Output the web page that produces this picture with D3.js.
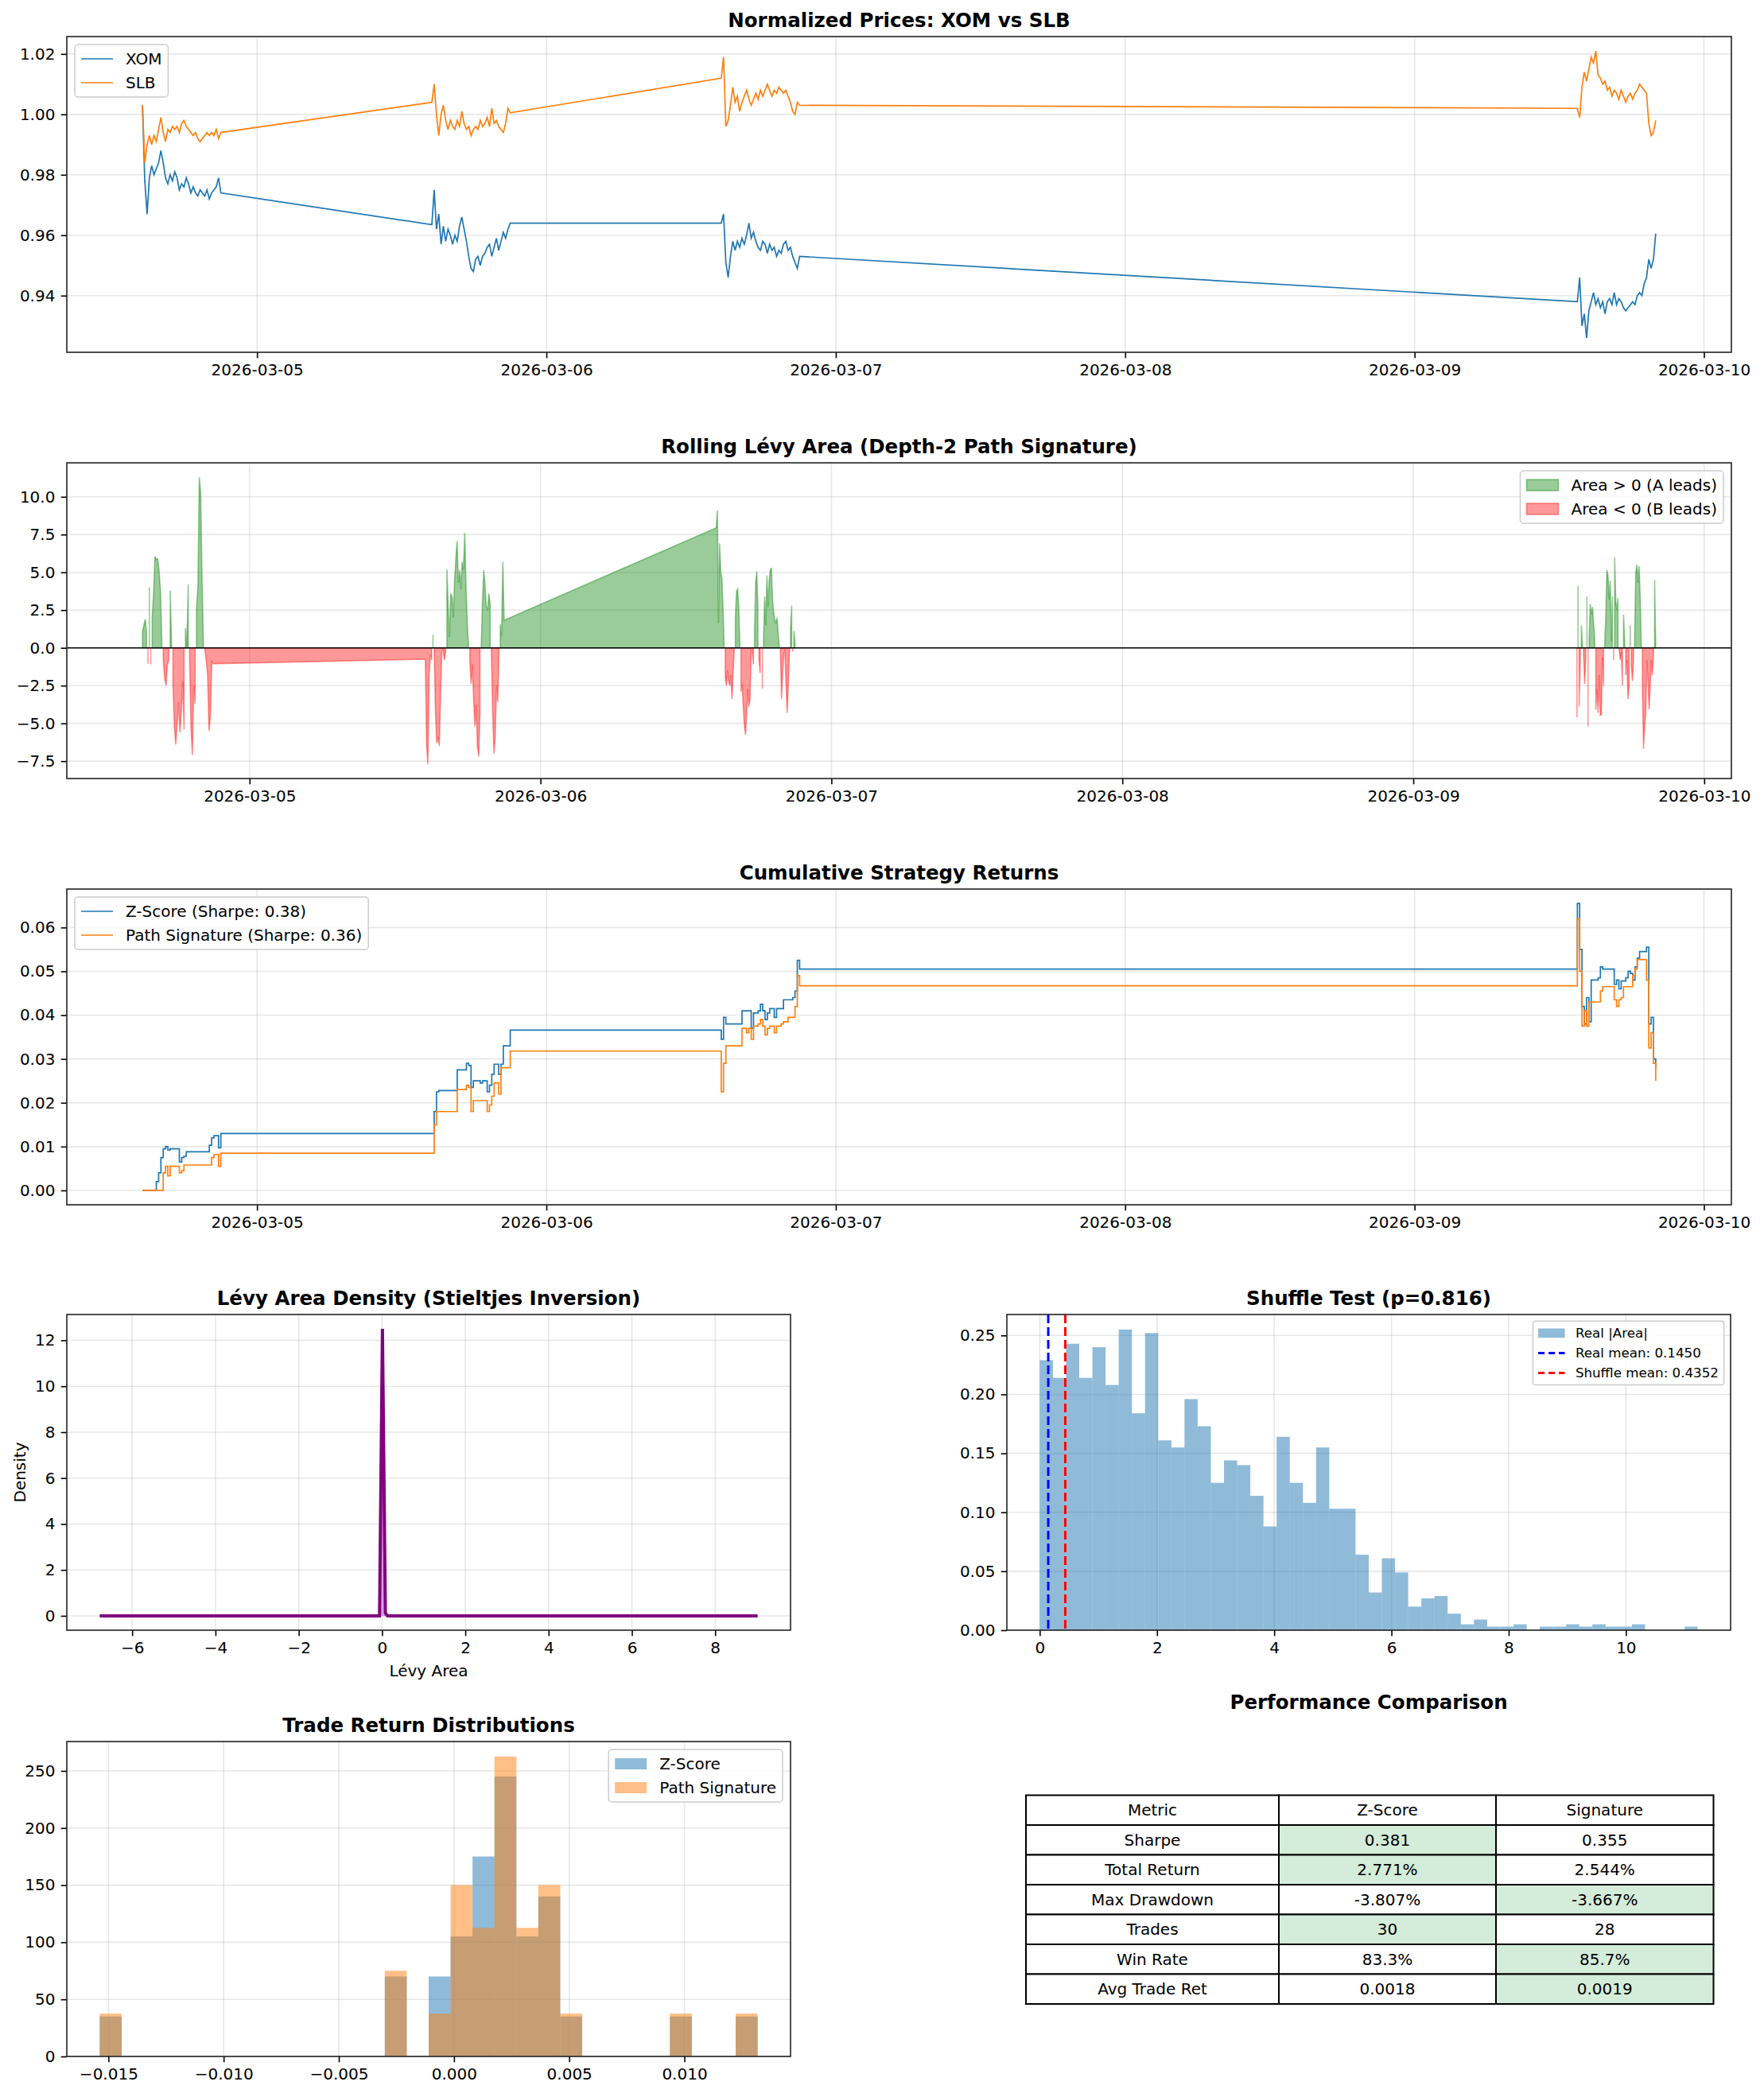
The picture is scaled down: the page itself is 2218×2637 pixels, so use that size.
<!DOCTYPE html>
<html>
<head>
<meta charset="utf-8">
<script src="https://cdn.jsdelivr.net/npm/d3@7"></script>
<style>
  body { margin: 0; background: #fff; }
  svg { display: block; }
</style>
</head>
<body>
<div id="chart"></div>
<script>
// ---- trading sessions (UTC) ----
const sessionOpen  = ["2026-03-04T14:30Z", "2026-03-05T14:30Z", "2026-03-06T14:30Z", "2026-03-09T13:30Z"];
const sessionClose = ["2026-03-04T21:00Z", "2026-03-05T21:00Z", "2026-03-06T21:00Z", "2026-03-09T20:00Z"];
// rolling window needs warm-up on the first day
const levyOpen     = ["2026-03-04T15:10Z", "2026-03-05T14:30Z", "2026-03-06T14:30Z", "2026-03-09T13:30Z"];

// ---- normalized prices, evenly sampled through each session ----
const xomDays = [
  [1.003, 0.978, 0.967, 0.979, 0.983, 0.980, 0.982, 0.984, 0.988, 0.984, 0.979, 0.977, 0.980, 0.978, 0.981, 0.979, 0.975, 0.977, 0.976, 0.979, 0.977, 0.974, 0.976, 0.974, 0.973, 0.975, 0.974, 0.973, 0.975, 0.972, 0.974, 0.975, 0.976, 0.979, 0.974],
  [0.9635, 0.975, 0.962, 0.967, 0.957, 0.963, 0.958, 0.962, 0.960, 0.957, 0.960, 0.958, 0.963, 0.966, 0.962, 0.958, 0.953, 0.949, 0.948, 0.952, 0.953, 0.950, 0.953, 0.954, 0.956, 0.957, 0.953, 0.956, 0.959, 0.955, 0.958, 0.961, 0.959, 0.962, 0.964],
  [0.964, 0.967, 0.951, 0.946, 0.953, 0.958, 0.955, 0.958, 0.956, 0.959, 0.957, 0.960, 0.964, 0.959, 0.961, 0.958, 0.956, 0.955, 0.958, 0.957, 0.954, 0.957, 0.955, 0.956, 0.953, 0.955, 0.954, 0.957, 0.958, 0.955, 0.956, 0.953, 0.951, 0.949, 0.953],
  [0.938, 0.946, 0.930, 0.934, 0.926, 0.935, 0.938, 0.941, 0.937, 0.939, 0.936, 0.938, 0.934, 0.938, 0.939, 0.937, 0.941, 0.937, 0.939, 0.938, 0.936, 0.935, 0.936, 0.937, 0.938, 0.937, 0.940, 0.941, 0.940, 0.944, 0.946, 0.952, 0.949, 0.952, 0.9605]
];
const slbDays = [
  [1.003, 0.984, 0.990, 0.993, 0.990, 0.993, 0.991, 0.995, 0.999, 0.994, 0.991, 0.995, 0.994, 0.996, 0.995, 0.996, 0.994, 0.997, 0.998, 0.996, 0.995, 0.994, 0.993, 0.994, 0.992, 0.991, 0.992, 0.993, 0.994, 0.993, 0.994, 0.993, 0.995, 0.992, 0.994],
  [1.004, 1.010, 1.000, 0.993, 1.000, 1.003, 0.998, 0.995, 0.998, 0.996, 0.995, 0.998, 0.996, 1.001, 0.997, 0.995, 0.996, 0.993, 0.995, 0.996, 0.995, 0.998, 0.996, 0.997, 0.999, 0.996, 1.002, 0.997, 0.998, 0.996, 0.995, 0.994, 0.997, 1.002, 1.0005],
  [1.012, 1.019, 0.996, 0.998, 1.003, 1.009, 1.004, 1.006, 1.001, 1.004, 1.006, 1.008, 1.005, 1.003, 1.005, 1.007, 1.005, 1.008, 1.006, 1.008, 1.010, 1.008, 1.006, 1.008, 1.007, 1.009, 1.008, 1.007, 1.008, 1.006, 1.004, 1.001, 1.000, 1.004, 1.003],
  [1.002, 0.999, 1.009, 1.014, 1.011, 1.015, 1.019, 1.017, 1.021, 1.013, 1.012, 1.010, 1.011, 1.008, 1.009, 1.006, 1.008, 1.007, 1.005, 1.008, 1.006, 1.004, 1.006, 1.007, 1.005, 1.007, 1.008, 1.010, 1.009, 1.008, 1.007, 0.997, 0.993, 0.994, 0.998]
];

// ---- rolling Levy area ----
const levyDays = [
  [1.1, 1.5, 1.9, 0.96, -1.05, 4.0, -1.1, 2.0, 3.6, 6.06, 5.85, 5.9, 5.1, 3.75, 0.17, -0.8, -2.0, -2.5, -1.1, -0.8, 3.8, 0.1, -2.5, -5.2, -6.4, -5.0, -3.6, -5.6, -4.3, -2.2, -5.4, 1.3, 0.1, 4.2, -0.8, -5.2, -7.1, -2.5, -3.7, 2.6, 4.1, 11.3, 10.2, 4.45, 0.1, -0.1, -0.8, -1.8, -5.5, -4.45, -0.9, -1.05],
  [-0.75, -6.4, -7.7, -1.8, -0.44, -0.8, 0.87, -0.1, -4.3, -6.3, -5.9, -6.5, -3.1, -0.26, -0.1, -0.8, -0.3, 5.2, 2.7, 0.7, 3.6, 3.4, 2.0, 4.45, 5.85, 7.07, 4.3, 5.15, 3.9, 5.7, 5.15, 7.6, 4.1, 1.66, 0.1, -0.8, -2.4, -1.1, -3.4, -5.2, -3.8, -6.5, -7.2, -4.3, 0.1, 3.06, 5.15, 4.1, 2.7, 2.5, 3.6, 2.9, -0.44, -4.3, -7.0, -5.85, -2.5, -3.6, -0.3, 1.57, 0.79, 5.7, 1.83],
  [7.95, 9.1, 1.66, 6.9, 5.0, 4.6, 2.7, 0.1, -2.0, -2.5, -1.5, -2.2, -2.5, -1.8, -3.4, -1.66, -0.1, 2.0, 3.75, 3.9, 2.7, 0.1, -2.9, -2.4, -3.9, -5.15, -5.76, -4.3, -2.7, -3.9, -3.4, -0.1, -0.26, -1.1, 1.1, 4.3, 5.06, 2.7, -0.8, -1.66, 0.1, -2.7, 0.44, 3.4, 1.5, 4.8, 2.7, 4.45, 5.15, 5.3, 3.2, 2.36, 1.83, 1.66, 2.0, 0.96, 0.1, -0.26, -3.4, -1.66, -0.44, -0.1, -2.5, -4.3, -2.5, -0.26, 1.3, 2.8, -0.26, 1.13, 0.3],
  [-4.6, 4.1, -3.9, -0.8, 1.5, 0.1, -0.44, -2.4, -0.6, 3.4, -5.2, 0.6, 2.9, 2.2, 2.7, 1.66, 0.6, -4.1, -2.7, -4.3, -1.8, -4.45, -4.45, -0.6, -2.5, 0.26, 2.0, 5.15, 4.8, 3.2, 4.45, 0.44, 3.4, -0.8, 6.0, 3.06, 2.5, 3.3, -0.1, -0.8, -0.26, -2.5, 2.2, 0.44, -1.8, -0.8, -3.4, -2.5, 1.5, -1.1, -2.2, -0.8, 0.6, 5.0, 5.5, 4.3, 5.4, 3.4, 0.1, -2.5, -6.7, -5.15, -4.45, -0.8, -2.2, -4.1, -2.5, -0.8, -1.8, -0.26, 4.5, 0.1]
];
const levyTicks = [-7.5, -5, -2.5, 0, 2.5, 5, 7.5, 10];

// ---- cumulative strategy returns ----
const zScoreDays = [
  [0, 0, 0, 0, 0, 0, 0.002, 0.004, 0.0075, 0.0095, 0.010, 0.0092, 0.0095, 0.0095, 0.0095, 0.0095, 0.0065, 0.0075, 0.0078, 0.0088, 0.0088, 0.0088, 0.0088, 0.0088, 0.0088, 0.0088, 0.0088, 0.0088, 0.0088, 0.0103, 0.0120, 0.0125, 0.0125, 0.0097, 0.0130],
  [0.013, 0.018, 0.0225, 0.0228, 0.0228, 0.0228, 0.0228, 0.0228, 0.0228, 0.0228, 0.0228, 0.0275, 0.0275, 0.0275, 0.0275, 0.0290, 0.0285, 0.0235, 0.0250, 0.0250, 0.0250, 0.0245, 0.0250, 0.0250, 0.0225, 0.0240, 0.0265, 0.0288, 0.0288, 0.0265, 0.0288, 0.0330, 0.0330, 0.0330, 0.0366],
  [0.0345, 0.0395, 0.038, 0.038, 0.038, 0.038, 0.038, 0.038, 0.038, 0.041, 0.041, 0.041, 0.041, 0.037, 0.0405, 0.0405, 0.041, 0.0425, 0.041, 0.039, 0.0405, 0.0415, 0.0415, 0.0395, 0.0415, 0.0415, 0.0415, 0.0435, 0.0435, 0.0435, 0.0435, 0.0440, 0.0455, 0.0525, 0.0505],
  [0.0655, 0.055, 0.042, 0.038, 0.044, 0.0385, 0.048, 0.048, 0.048, 0.0485, 0.051, 0.0505, 0.0505, 0.0505, 0.0505, 0.0505, 0.047, 0.048, 0.046, 0.0478, 0.0478, 0.0485, 0.050, 0.0495, 0.048, 0.051, 0.053, 0.0545, 0.0545, 0.0545, 0.0555, 0.038, 0.0395, 0.030, 0.028]
];
const signatureDays = [
  [0, 0, 0, 0, 0, 0, 0, 0, 0, 0.004, 0.0055, 0.0033, 0.0055, 0.0055, 0.0055, 0.0055, 0.004, 0.0045, 0.0058, 0.0058, 0.0058, 0.0058, 0.0058, 0.0058, 0.0058, 0.0058, 0.0058, 0.0058, 0.0058, 0.0058, 0.0075, 0.0082, 0.0082, 0.0055, 0.0085],
  [0.0085, 0.015, 0.018, 0.018, 0.018, 0.018, 0.018, 0.018, 0.018, 0.018, 0.018, 0.023, 0.023, 0.023, 0.023, 0.024, 0.0235, 0.018, 0.0205, 0.0205, 0.0205, 0.0205, 0.0205, 0.0205, 0.018, 0.0195, 0.0215, 0.0245, 0.0245, 0.022, 0.028, 0.028, 0.028, 0.028, 0.0318],
  [0.0225, 0.029, 0.033, 0.033, 0.033, 0.033, 0.033, 0.033, 0.033, 0.037, 0.037, 0.036, 0.037, 0.0345, 0.0375, 0.0375, 0.038, 0.039, 0.0375, 0.0355, 0.037, 0.0375, 0.0375, 0.036, 0.0375, 0.0375, 0.038, 0.0385, 0.0385, 0.0395, 0.0395, 0.0395, 0.042, 0.049, 0.0467],
  [0.062, 0.050, 0.0375, 0.041, 0.0375, 0.043, 0.043, 0.043, 0.043, 0.043, 0.0455, 0.0465, 0.0465, 0.0465, 0.0465, 0.0465, 0.0435, 0.042, 0.0435, 0.044, 0.0465, 0.0465, 0.0465, 0.0465, 0.049, 0.0505, 0.0527, 0.0527, 0.0527, 0.0527, 0.048, 0.0325, 0.036, 0.029, 0.025]
];
const strategyNames = ["Z-Score", "Path Signature"];
const sharpeLabels = ["0.38", "0.36"];

// ---- Levy area density (Stieltjes inversion) ----
const densX = [-6.78, -0.06, 0.01, 0.08, 0.13, 9.02];
const densY = [0, 0, 12.5, 0.12, 0, 0];

// ---- shuffle test: histogram of real |area| ----
const shuffleBinStart = 0;
const shuffleBinWidth = 0.2245;
const shuffleDensity = [0.229, 0.214, 0.243, 0.214, 0.240, 0.208, 0.255, 0.184, 0.252, 0.161, 0.155, 0.196, 0.173, 0.125, 0.144, 0.140, 0.114, 0.088, 0.164, 0.125, 0.108, 0.155, 0.103, 0.103, 0.064, 0.032, 0.061, 0.049, 0.020, 0.027, 0.029, 0.014, 0.005, 0.009, 0.003, 0.003, 0.005, 0, 0.003, 0.003, 0.005, 0.003, 0.005, 0.003, 0.003, 0.005, 0, 0, 0, 0.003];
const realMean = 0.1450;
const shuffleMean = 0.4352;
const pValue = "0.816";

// ---- trade return distributions (counts per bin) ----
const tradeBinStart = -0.01538;
const tradeBinWidth = 0.000952;
const zScoreTradeCounts    = [1, 0,0,0,0,0,0,0,0,0,0,0,0, 2, 0, 2, 3, 5, 7, 3, 4, 1, 0,0,0,0, 1, 0,0, 1];
const signatureTradeCounts = [1, 0,0,0,0,0,0,0,0,0,0,0,0, 2, 0, 1, 4, 3, 7, 3, 4, 1, 0,0,0,0, 1, 0,0, 1];

// ---- performance table ----
const tableHeader = ["Metric", "Z-Score", "Signature"];
const metricNames = ["Sharpe", "Total Return", "Max Drawdown", "Trades", "Win Rate", "Avg Trade Ret"];
const zScoreCol = ["0.381", "2.771%", "-3.807%", "30", "83.3%", "0.0018"];
const signatureCol = ["0.355", "2.544%", "-3.667%", "28", "85.7%", "0.0019"];
const betterCol = [1, 1, 2, 1, 2, 2];

// ================= drawing =================
const W = 2218, H = 2637;
const FONT = "'DejaVu Sans', sans-serif";
const FS = 20, TFS = 24.5, TICK = 7.3;
const C0 = "#1f77b4", C1 = "#ff7f0e";

const L = {
  prices:  {x: 84,   y: 46,   w: 2093, h: 397},
  levy:    {x: 84,   y: 582,  w: 2093, h: 397},
  cum:     {x: 84,   y: 1118, w: 2093, h: 397},
  dens:    {x: 84,   y: 1653, w: 910,  h: 397},
  shuffle: {x: 1266, y: 1653, w: 910,  h: 397},
  trades:  {x: 84,   y: 2190, w: 910,  h: 396}
};

const svg = d3.select("#chart").append("svg")
  .attr("width", W).attr("height", H)
  .attr("font-family", FONT);
svg.append("rect").attr("width", W).attr("height", H).attr("fill", "#fff");

// spread each session's samples evenly between open and close
function sessionSeries(days, opens, closes) {
  const out = [];
  days.forEach((vals, k) => {
    const t0 = +new Date(opens[k]), t1 = +new Date(closes[k]);
    vals.forEach((v, i) => out.push({t: new Date(t0 + (t1 - t0) * i / (vals.length - 1)), v}));
  });
  return out;
}
function pad(ext, f = 0.05) {
  const s = (ext[1] - ext[0]) * f;
  return [ext[0] - s, ext[1] + s];
}
function padTime(ext) {
  const [a, b] = pad([+ext[0], +ext[1]]);
  return [new Date(a), new Date(b)];
}

let clipN = 0;
function makePanel(rect, title, titleY) {
  const g = svg.append("g").attr("transform", `translate(${rect.x},${rect.y})`);
  const id = "clip" + (clipN++);
  g.append("clipPath").attr("id", id).append("rect").attr("width", rect.w).attr("height", rect.h);
  const grid = g.append("g").attr("stroke", "#b0b0b0").attr("stroke-opacity", 0.3).attr("stroke-width", 1.6);
  const data = g.append("g").attr("clip-path", `url(#${id})`);
  const axes = g.append("g");
  const over = g.append("g");
  g.append("text").attr("x", rect.w / 2).attr("y", titleY == null ? -12.5 : titleY)
    .attr("text-anchor", "middle").attr("font-size", TFS).attr("font-weight", "bold").text(title);
  return {g, grid, data, axes, over, rect};
}

function finishPanel(p, x, y, o) {
  const r = p.rect;
  p.grid.selectAll(null).data(o.xTicks).join("line")
    .attr("x1", d => x(d)).attr("x2", d => x(d)).attr("y1", 0).attr("y2", r.h);
  p.grid.selectAll(null).data(o.yTicks).join("line")
    .attr("y1", d => y(d)).attr("y2", d => y(d)).attr("x1", 0).attr("x2", r.w);
  const xa = p.axes.append("g").attr("transform", `translate(0,${r.h})`)
    .call(d3.axisBottom(x).tickValues(o.xTicks).tickFormat(o.xFmt).tickSize(TICK).tickPadding(TICK));
  const ya = p.axes.append("g")
    .call(d3.axisLeft(y).tickValues(o.yTicks).tickFormat(o.yFmt).tickSize(TICK).tickPadding(TICK));
  [xa, ya].forEach(a => {
    a.attr("font-family", FONT).attr("font-size", FS);
    a.select(".domain").remove();
    a.selectAll(".tick line").attr("stroke", "#000").attr("stroke-width", 1.6);
    a.selectAll(".tick text").attr("fill", "#000");
  });
  p.axes.append("rect").attr("width", r.w).attr("height", r.h)
    .attr("fill", "none").attr("stroke", "#222").attr("stroke-width", 1.6);
}

function legend(p, items, loc, fs) {
  const bp = 0.4 * fs, gap = 0.5 * fs, hl = 2 * fs, htp = 0.8 * fs, bap = 0.5 * fs;
  const lg = p.over.append("g").attr("font-size", fs);
  const box = lg.append("rect");
  const texts = items.map(it => lg.append("text").text(it.label));
  const tw = d3.max(texts, t => t.node().getComputedTextLength());
  const bw = 2 * bp + hl + htp + tw;
  const bh = 2 * bp + items.length * fs + (items.length - 1) * gap;
  const bx = loc === "right" ? p.rect.w - bap - bw : bap, by = bap;
  box.attr("x", bx).attr("y", by).attr("width", bw).attr("height", bh).attr("rx", 0.2 * fs)
    .attr("fill", "#fff").attr("fill-opacity", 0.8).attr("stroke", "#ccc").attr("stroke-width", 1.5);
  items.forEach((it, i) => {
    const cy = by + bp + i * (fs + gap) + fs / 2;
    texts[i].attr("x", bx + bp + hl + htp).attr("y", cy).attr("dy", "0.35em");
    if (it.type === "line") {
      lg.append("line").attr("x1", bx + bp).attr("x2", bx + bp + hl).attr("y1", cy).attr("y2", cy)
        .attr("stroke", it.color).attr("stroke-width", it.width || 1.7)
        .attr("stroke-dasharray", it.dash || null);
    } else {
      lg.append("rect").attr("x", bx + bp).attr("y", cy - 0.35 * fs).attr("width", hl).attr("height", 0.7 * fs)
        .attr("fill", it.color).attr("fill-opacity", it.alpha)
        .attr("stroke", it.edge ? it.color : "none").attr("stroke-opacity", it.alpha).attr("stroke-width", 1.6);
    }
  });
}

const dayFmt = d3.utcFormat("%Y-%m-%d");

// ---------- 1. normalized prices ----------
{
  const xom = sessionSeries(xomDays, sessionOpen, sessionClose);
  const slb = sessionSeries(slbDays, sessionOpen, sessionClose);
  const r = L.prices;
  const x = d3.scaleUtc().domain(padTime(d3.extent(xom, d => d.t))).range([0, r.w]);
  const y = d3.scaleLinear().domain(pad(d3.extent(xom.concat(slb), d => d.v))).range([r.h, 0]);
  const p = makePanel(r, "Normalized Prices: XOM vs SLB");
  const line = d3.line().x(d => x(d.t)).y(d => y(d.v));
  [[xom, C0], [slb, C1]].forEach(([s, c]) =>
    p.data.append("path").datum(s).attr("d", line).attr("fill", "none").attr("stroke", c).attr("stroke-width", 1.7));
  finishPanel(p, x, y, {xTicks: d3.utcDay.range(...x.domain()), xFmt: dayFmt, yTicks: y.ticks(5), yFmt: d3.format(".2f")});
  legend(p, [{type: "line", color: C0, label: "XOM"}, {type: "line", color: C1, label: "SLB"}], "left", FS);
}

// ---------- 2. rolling Levy area ----------
{
  const levy = sessionSeries(levyDays, levyOpen, sessionClose);
  const r = L.levy;
  const x = d3.scaleUtc().domain(padTime(d3.extent(levy, d => d.t))).range([0, r.w]);
  const y = d3.scaleLinear().domain(pad(d3.extent(levy, d => d.v))).range([r.h, 0]);
  const p = makePanel(r, "Rolling Lévy Area (Depth-2 Path Signature)");
  const area = d3.area().x(d => x(d.t)).y0(y(0)).y1(d => y(d.v));
  // contiguous runs of the same sign, like fill_between(where=...)
  function runs(test) {
    const out = []; let cur = null;
    levy.forEach(d => {
      if (test(d.v)) { if (!cur) { cur = []; out.push(cur); } cur.push(d); }
      else cur = null;
    });
    return out;
  }
  [[runs(v => v > 0), "green"], [runs(v => v < 0), "red"]].forEach(([rs, c]) =>
    p.data.selectAll(null).data(rs).join("path").attr("d", area)
      .attr("fill", c).attr("fill-opacity", 0.4)
      .attr("stroke", c).attr("stroke-opacity", 0.4).attr("stroke-width", 1.6));
  p.data.append("line").attr("x1", 0).attr("x2", r.w).attr("y1", y(0)).attr("y2", y(0))
    .attr("stroke", "#000").attr("stroke-width", 1.6);
  finishPanel(p, x, y, {xTicks: d3.utcDay.range(...x.domain()), xFmt: dayFmt, yTicks: levyTicks, yFmt: d3.format(".1f")});
  legend(p, [
    {type: "patch", color: "green", alpha: 0.4, edge: true, label: "Area > 0 (A leads)"},
    {type: "patch", color: "red", alpha: 0.4, edge: true, label: "Area < 0 (B leads)"}
  ], "right", FS);
}

// ---------- 3. cumulative strategy returns ----------
{
  const zs = sessionSeries(zScoreDays, sessionOpen, sessionClose);
  const sig = sessionSeries(signatureDays, sessionOpen, sessionClose);
  const r = L.cum;
  const x = d3.scaleUtc().domain(padTime(d3.extent(zs, d => d.t))).range([0, r.w]);
  const y = d3.scaleLinear().domain(pad(d3.extent(zs.concat(sig), d => d.v))).range([r.h, 0]);
  const p = makePanel(r, "Cumulative Strategy Returns");
  const line = d3.line().curve(d3.curveStepAfter).x(d => x(d.t)).y(d => y(d.v));
  [[zs, C0], [sig, C1]].forEach(([s, c]) =>
    p.data.append("path").datum(s).attr("d", line).attr("fill", "none").attr("stroke", c).attr("stroke-width", 1.7));
  finishPanel(p, x, y, {xTicks: d3.utcDay.range(...x.domain()), xFmt: dayFmt, yTicks: y.ticks(7), yFmt: d3.format(".2f")});
  legend(p, strategyNames.map((n, i) => ({type: "line", color: i ? C1 : C0, label: `${n} (Sharpe: ${sharpeLabels[i]})`})), "left", FS);
}

// ---------- 4. Levy area density ----------
{
  const pts = densX.map((v, i) => ({x: v, y: densY[i]}));
  const r = L.dens;
  const x = d3.scaleLinear().domain(pad(d3.extent(densX))).range([0, r.w]);
  const y = d3.scaleLinear().domain(pad(d3.extent(densY))).range([r.h, 0]);
  const p = makePanel(r, "Lévy Area Density (Stieltjes Inversion)");
  p.data.append("path").datum(pts)
    .attr("d", d3.area().x(d => x(d.x)).y0(y(0)).y1(d => y(d.y)))
    .attr("fill", "purple").attr("fill-opacity", 0.3);
  p.data.append("path").datum(pts)
    .attr("d", d3.line().x(d => x(d.x)).y(d => y(d.y)))
    .attr("fill", "none").attr("stroke", "purple").attr("stroke-width", 4);
  finishPanel(p, x, y, {xTicks: x.ticks(8), xFmt: d3.format("d"), yTicks: y.ticks(6), yFmt: d3.format("d")});
  p.g.append("text").attr("x", r.w / 2).attr("y", r.h + 58).attr("text-anchor", "middle")
    .attr("font-size", FS).text("Lévy Area");
  p.g.append("text").attr("transform", `translate(${31.5 - r.x},${r.h / 2}) rotate(-90)`)
    .attr("text-anchor", "middle").attr("font-size", FS).text("Density");
}

// ---------- 5. shuffle test ----------
{
  const bins = shuffleDensity.map((v, i) => ({
    x0: shuffleBinStart + i * shuffleBinWidth, x1: shuffleBinStart + (i + 1) * shuffleBinWidth, v}));
  const r = L.shuffle;
  const x = d3.scaleLinear().domain(pad([bins[0].x0, bins[bins.length - 1].x1])).range([0, r.w]);
  const y = d3.scaleLinear().domain([0, d3.max(shuffleDensity) * 1.05]).range([r.h, 0]);
  const p = makePanel(r, `Shuffle Test (p=${pValue})`);
  p.data.selectAll(null).data(bins.filter(b => b.v > 0)).join("rect")
    .attr("x", d => x(d.x0)).attr("width", d => x(d.x1) - x(d.x0))
    .attr("y", d => y(d.v)).attr("height", d => y(0) - y(d.v))
    .attr("fill", C0).attr("fill-opacity", 0.5);
  [[realMean, "blue"], [shuffleMean, "red"]].forEach(([m, c]) =>
    p.data.append("line").attr("x1", x(m)).attr("x2", x(m)).attr("y1", 0).attr("y2", r.h)
      .attr("stroke", c).attr("stroke-width", 3).attr("stroke-dasharray", "11,5"));
  finishPanel(p, x, y, {xTicks: x.ticks(6), xFmt: d3.format("d"), yTicks: y.ticks(5), yFmt: d3.format(".2f")});
  legend(p, [
    {type: "patch", color: C0, alpha: 0.5, label: "Real |Area|"},
    {type: "line", color: "blue", width: 3, dash: "8,5", label: `Real mean: ${realMean.toFixed(4)}`},
    {type: "line", color: "red", width: 3, dash: "8,5", label: `Shuffle mean: ${shuffleMean.toFixed(4)}`}
  ], "right", 16.7);
}

// ---------- 6. trade return distributions ----------
{
  const toBins = (counts) => {
    const n = d3.sum(counts);
    return counts.map((c, i) => ({
      x0: tradeBinStart + i * tradeBinWidth, x1: tradeBinStart + (i + 1) * tradeBinWidth,
      v: c / (n * tradeBinWidth)}));
  };
  const zb = toBins(zScoreTradeCounts), sb = toBins(signatureTradeCounts);
  const r = L.trades;
  const x = d3.scaleLinear().domain(pad([zb[0].x0, zb[zb.length - 1].x1])).range([0, r.w]);
  const y = d3.scaleLinear().domain([0, d3.max(zb.concat(sb), d => d.v) * 1.05]).range([r.h, 0]);
  const p = makePanel(r, "Trade Return Distributions");
  [[zb, C0], [sb, C1]].forEach(([b, c]) =>
    p.data.append("g").selectAll("rect").data(b.filter(d => d.v > 0)).join("rect")
      .attr("x", d => x(d.x0)).attr("width", d => x(d.x1) - x(d.x0))
      .attr("y", d => y(d.v)).attr("height", d => y(0) - y(d.v))
      .attr("fill", c).attr("fill-opacity", 0.5));
  finishPanel(p, x, y, {xTicks: x.ticks(6), xFmt: d3.format(".3f"), yTicks: y.ticks(5), yFmt: d3.format("d")});
  legend(p, strategyNames.map((n, i) => ({type: "patch", color: i ? C1 : C0, alpha: 0.5, label: n})), "right", FS);
}

// ---------- 7. performance table ----------
{
  const tableX = 1290, tableTop = 2257.5, rowH = 37.5;
  const colW = [318, 273, 273.5];
  const colX = d3.scaleOrdinal().domain([0, 1, 2]).range([0, colW[0], colW[0] + colW[1]].map(v => v + tableX));
  const rowY = d3.scaleBand().domain(d3.range(metricNames.length + 1)).range([tableTop, tableTop + rowH * 7]);
  const cells = [];
  tableHeader.forEach((t, c) => cells.push({r: 0, c, text: t, fill: "#fff"}));
  metricNames.forEach((m, i) => {
    [m, zScoreCol[i], signatureCol[i]].forEach((t, c) =>
      cells.push({r: i + 1, c, text: t, fill: betterCol[i] === c ? "#d4edda" : "#fff"}));
  });
  const tg = svg.append("g");
  tg.append("text").attr("x", (L.shuffle.x + L.shuffle.x + L.shuffle.w) / 2).attr("y", 2149)
    .attr("text-anchor", "middle").attr("font-size", TFS).attr("font-weight", "bold").text("Performance Comparison");
  const cg = tg.selectAll("g.cell").data(cells).join("g").attr("class", "cell");
  cg.append("rect")
    .attr("x", d => colX(d.c)).attr("y", d => rowY(d.r))
    .attr("width", d => colW[d.c]).attr("height", rowY.bandwidth())
    .attr("fill", d => d.fill).attr("stroke", "#000").attr("stroke-width", 2);
  cg.append("text")
    .attr("x", d => colX(d.c) + colW[d.c] / 2).attr("y", d => rowY(d.r) + rowY.bandwidth() / 2)
    .attr("dy", "0.35em").attr("text-anchor", "middle").attr("font-size", FS).text(d => d.text);
}
</script>
</body>
</html>
